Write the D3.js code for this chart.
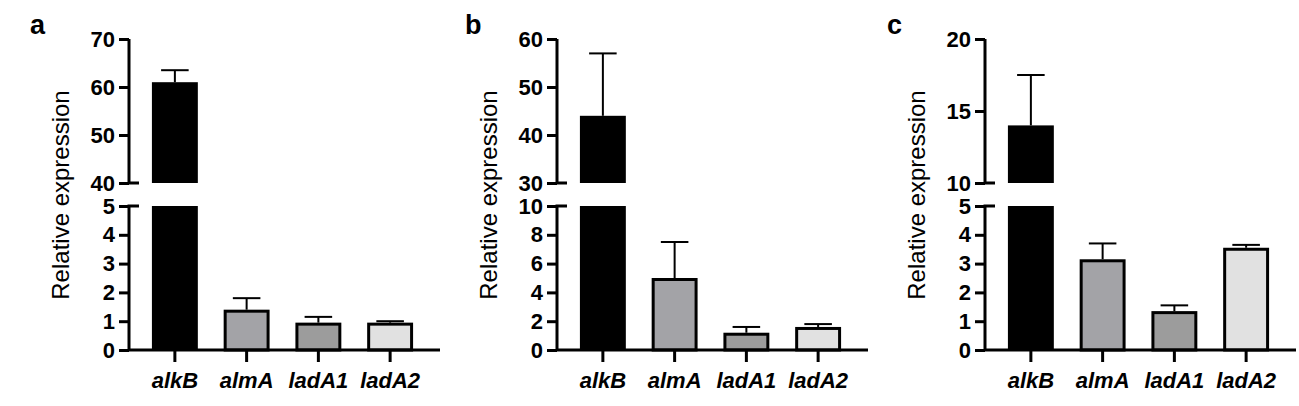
<!DOCTYPE html>
<html lang="en">
<head>
<meta charset="utf-8">
<script src="https://d3js.org/d3.v7.min.js"></script>
<style>
body{margin:0;background:#fff;}
text{font-family:"Liberation Sans",Arial,sans-serif;}
</style>
</head>
<body>
<div id="chart"></div>
<script>
// data per panel
var genes = ["alkB", "almA", "ladA1", "ladA2"];
var fills = ["#000000", "#a3a3a7", "#9c9c9c", "#e1e1e1"];
var panelLetters = ["a", "b", "c"];
var meansA = [61, 1.4, 0.95, 0.95];
var errsA = [2.5, 0.4, 0.2, 0.05];
var meansB = [44, 5.0, 1.2, 1.6];
var errsB = [13, 2.5, 0.4, 0.2];
var meansC = [14, 3.15, 1.35, 3.55];
var errsC = [3.5, 0.55, 0.2, 0.1];
var lowDomains = [[0, 5], [0, 10], [0, 5]];
var highDomains = [[40, 70], [30, 60], [10, 20]];
var lowTicks = [[0,1,2,3,4,5], [0,2,4,6,8,10], [0,1,2,3,4,5]];
var highTicks = [[40,50,60,70], [30,40,50,60], [10,15,20]];
var means = [meansA, meansB, meansC];
var errs = [errsA, errsB, errsC];

var svg = d3.select("#chart").append("svg").attr("width", 1299).attr("height", 406);

var axisX = [129, 557, 985];
panelLetters.forEach(function(letter, p) {
	var g = svg.append("g").attr("transform", "translate(" + axisX[p] + ",0)");
	var x = d3.scaleBand().domain(genes).range([10, 297]).paddingInner(0.36).paddingOuter(0.18);
	var yLow = d3.scaleLinear().domain(lowDomains[p]).range([350, 206]);
	var yHigh = d3.scaleLinear().domain(highDomains[p]).range([183, 39]);

	g.append("text").attr("x", [-99, -92, -98][p]).attr("y", 34)
		.attr("font-size", 27).attr("font-weight", "bold").text(letter);

	g.append("text").attr("transform", "translate(-60,195) rotate(-90)")
		.attr("text-anchor", "middle").attr("font-size", 24).text("Relative expression");

	// bars
	genes.forEach(function(gene, i) {
		var v = means[p][i], e = errs[p][i];
		var bx = x(gene), bw = x.bandwidth();
		var ys = v > lowDomains[p][1] ? yHigh : yLow;
		// error bar
		g.append("line").attr("x1", bx + bw/2).attr("x2", bx + bw/2)
			.attr("y1", ys(v)).attr("y2", ys(v + e)).attr("stroke", "#000").attr("stroke-width", 2);
		g.append("line").attr("x1", bx + bw*0.2).attr("x2", bx + bw*0.8)
			.attr("y1", ys(v + e)).attr("y2", ys(v + e)).attr("stroke", "#000").attr("stroke-width", 2);
		if (v > lowDomains[p][1]) {
			g.append("rect").attr("x", bx).attr("width", bw).attr("y", yHigh(v))
				.attr("height", yHigh(highDomains[p][0]) - yHigh(v)).attr("fill", fills[i]);
			g.append("rect").attr("x", bx).attr("width", bw).attr("y", yLow(lowDomains[p][1]))
				.attr("height", yLow(0) - yLow(lowDomains[p][1])).attr("fill", fills[i]);
		} else {
			g.append("rect").attr("x", bx + 1.5).attr("width", bw - 3).attr("y", yLow(v) + 1.5)
				.attr("height", yLow(0) - yLow(v) - 1.5).attr("fill", fills[i])
				.attr("stroke", "#000").attr("stroke-width", 3);
		}
	});

	// axes
	var styleAxis = function(sel) {
		sel.selectAll("path,line").attr("stroke", "#000").attr("stroke-width", 3);
		sel.selectAll("text").attr("font-size", 22).attr("font-weight", "bold")
			.attr("font-family", "Liberation Sans, Arial, sans-serif").attr("fill", "#000");
	};
	g.append("g").call(d3.axisLeft(yLow).tickValues(lowTicks[p]).tickFormat(d3.format("d")).tickSizeInner(10).tickSizeOuter(0).tickPadding(4))
		.call(styleAxis).select(".domain").attr("d", "M0,350V206H10");
	g.append("g").call(d3.axisLeft(yHigh).tickValues(highTicks[p]).tickFormat(d3.format("d")).tickSizeInner(10).tickSizeOuter(0).tickPadding(4))
		.call(styleAxis).select(".domain").attr("d", "M0,39V183H10");
	var xa = g.append("g").attr("transform", "translate(0,350)")
		.call(d3.axisBottom(x).tickSizeInner(12).tickSizeOuter(0).tickPadding(10));
	xa.call(styleAxis);
	xa.select(".domain").attr("d", "M0,0H311");
	xa.selectAll("text").attr("font-style", "italic").attr("font-size", 22);
});
</script>
</body>
</html>
